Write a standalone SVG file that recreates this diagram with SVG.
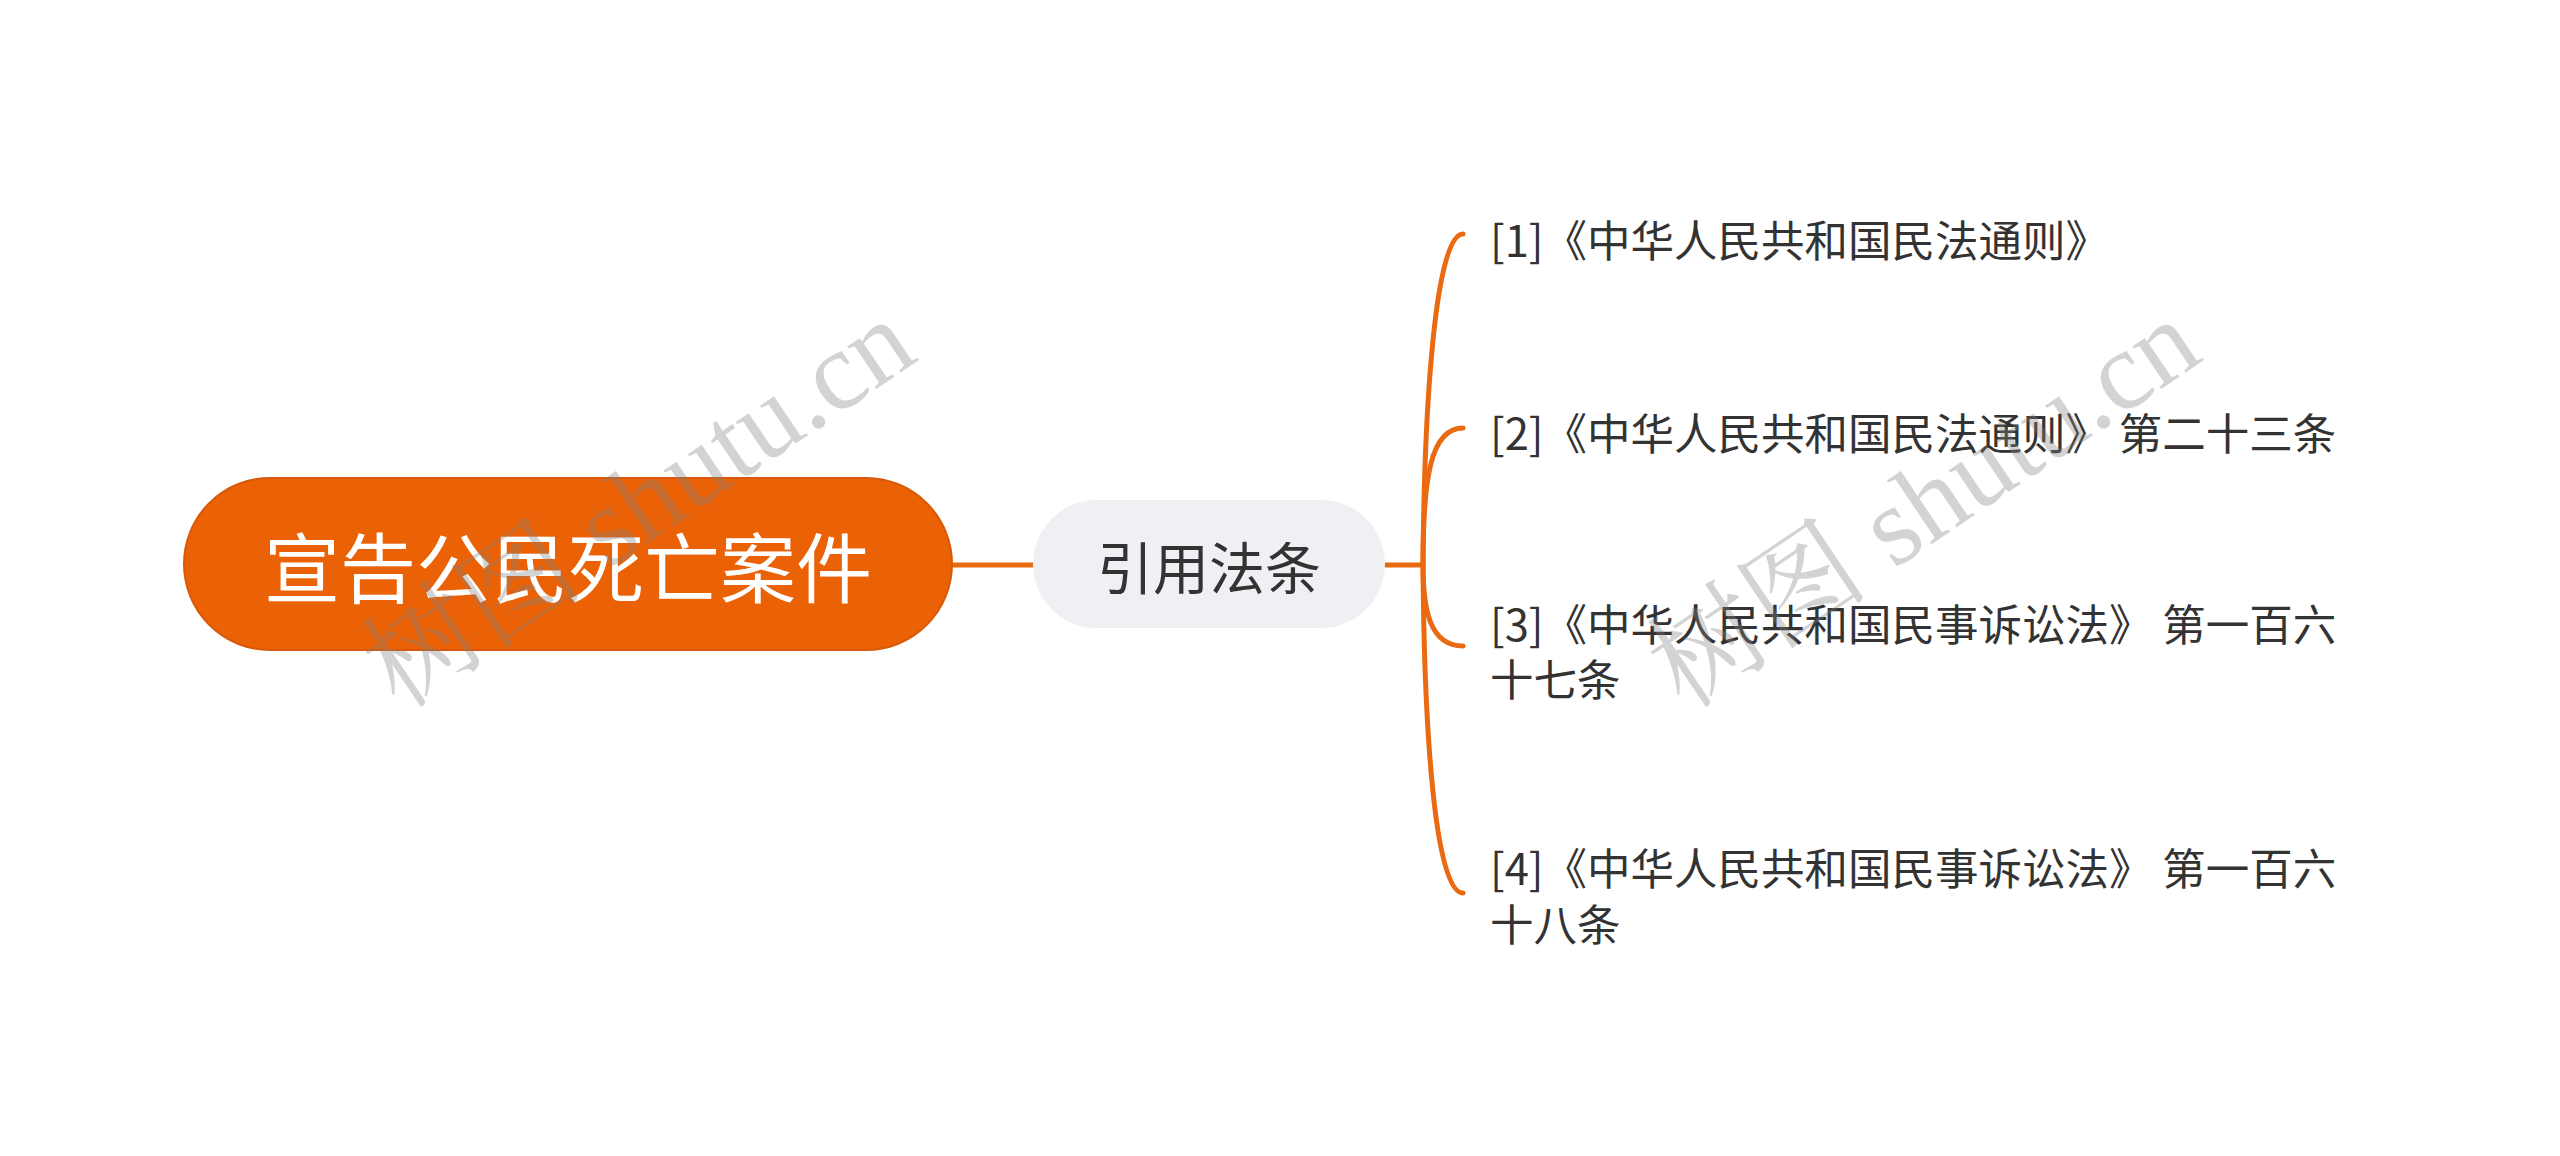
<svg xmlns="http://www.w3.org/2000/svg" width="2560" height="1156" viewBox="0 0 2560 1156">
<style>
.cjk{font-family:"Noto Sans CJK SC","Noto Sans",sans-serif}
.root-t{font-size:76px;fill:#ffffff}
.sub-t{font-size:56px;fill:#333333}
.leaf-t{font-size:43.5px;fill:#333333}
.conn{fill:none;stroke:#EA6A12;stroke-width:5;stroke-linecap:round}
.wm{font-family:"Liberation Serif","Noto Serif CJK SC","Noto Sans CJK SC",serif;font-size:112px;fill:#808080;fill-opacity:0.35}
</style>
<rect width="2560" height="1156" fill="#ffffff"/>
<g id="connectors">
<path class="conn" d="M952,565 L1033,565"/>
<path class="conn" d="M1385,565 L1423,565"/>
<path class="conn" d="M1423,565 C1424,420 1434,234 1463,234"/>
<path class="conn" d="M1423,565 C1423,480 1430,428 1463,428"/>
<path class="conn" d="M1423,565 C1423,610 1430,646 1463,646"/>
<path class="conn" d="M1423,565 C1424,720 1434,893 1463,893"/>
</g>
<g id="root">
<rect x="184" y="478" width="768" height="172" rx="86" ry="86" fill="#EB6106" stroke="#D85A08" stroke-width="2"/>
<text class="cjk root-t" x="568" y="564" text-anchor="middle" dominant-baseline="central">宣告公民死亡案件</text>
</g>
<g id="sub">
<rect x="1033" y="500" width="352" height="128" rx="64" ry="64" fill="#EEF0F3"/>
<text class="cjk sub-t" x="1209" y="564" text-anchor="middle" dominant-baseline="central">引用法条</text>
</g>
<g id="leaf1">
<text class="cjk leaf-t" x="1490" y="238" dominant-baseline="central">[1]《中华人民共和国民法通则》</text>
</g>
<g id="leaf2">
<text class="cjk leaf-t" x="1490" y="431" dominant-baseline="central">[2]《中华人民共和国民法通则》 第二十三条</text>
</g>
<g id="leaf3">
<text class="cjk leaf-t" x="1490" y="622" dominant-baseline="central">[3]《中华人民共和国民事诉讼法》 第一百六</text>
<text class="cjk leaf-t" x="1490" y="677" dominant-baseline="central">十七条</text>
</g>
<g id="leaf4">
<text class="cjk leaf-t" x="1490" y="866" dominant-baseline="central">[4]《中华人民共和国民事诉讼法》 第一百六</text>
<text class="cjk leaf-t" x="1490" y="922" dominant-baseline="central">十八条</text>
</g>
<g id="watermarks">
<text class="wm" x="660" y="535" text-anchor="middle" transform="rotate(-34 660 535)">树图 shutu.cn</text>
<text class="wm" x="1945" y="535" text-anchor="middle" transform="rotate(-34 1945 535)">树图 shutu.cn</text>
</g>
</svg>
